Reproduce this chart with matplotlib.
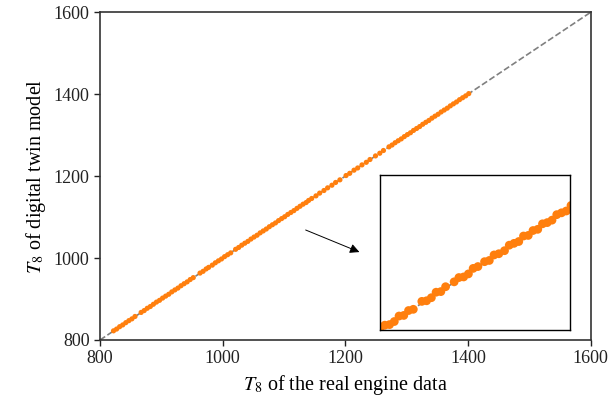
import matplotlib
matplotlib.use("Agg")
import matplotlib.pyplot as plt

plt.rcParams['font.family'] = ['Liberation Serif', 'DejaVu Serif']
plt.rcParams['mathtext.fontset'] = 'stix'

# T8 of the real engine data (coarse points along the range)
t8_real = [822, 827, 832, 837, 842, 847, 852, 857,
           867, 872, 877, 882, 887, 892, 897, 902, 907, 912, 917, 922, 927, 932, 937, 942, 947, 952,
           963, 968, 973, 977,
           983, 988, 993, 998, 1003, 1008, 1013,
           1021, 1026, 1031, 1036, 1041, 1046, 1051, 1056, 1061, 1066, 1071, 1076, 1081, 1086,
           1091, 1096, 1101, 1106, 1111, 1116, 1121, 1126, 1131, 1136, 1140,
           1145, 1152, 1158, 1165, 1171, 1178, 1184, 1191,
           1201, 1207, 1214, 1220, 1227, 1234, 1240,
           1249, 1256, 1262,
           1271, 1276, 1281, 1286, 1291, 1296, 1301, 1306, 1311, 1316, 1321, 1326, 1331, 1336,
           1341, 1346, 1351, 1356, 1361, 1366, 1371, 1376, 1381, 1386, 1391, 1396, 1401]
t8_model = [822.4, 826.7, 832.5, 836.8, 842.3, 847.2, 851.6, 857.4,
            867.3, 871.8, 877.4, 881.7, 887.2, 892.5, 896.8, 902.3, 907.1, 911.6, 917.4, 922.2,
            926.7, 932.4, 937.3, 941.8, 947.5, 952.2,
            963.3, 967.6, 973.4, 977.2,
            982.7, 988.4, 993.2, 997.7, 1003.4, 1008.1, 1012.6,
            1021.3, 1025.8, 1031.4, 1036.2, 1040.7, 1046.3, 1051.2, 1055.7, 1061.4, 1066.1,
            1070.8, 1076.4, 1081.2, 1085.7, 1091.3, 1096.2, 1100.8, 1106.4, 1111.1, 1115.7,
            1121.2, 1126.3, 1131.4, 1135.5, 1140.5,
            1145.3, 1151.7, 1158.4, 1164.8, 1171.3, 1177.7, 1184.4, 1190.8,
            1201.3, 1206.7, 1214.4, 1219.8, 1227.3, 1233.6, 1240.4,
            1249.2, 1255.7, 1262.4,
            1271.3, 1275.8, 1281.4, 1286.2, 1290.7, 1296.3, 1301.2, 1305.7, 1311.4, 1316.1,
            1320.8, 1326.4, 1331.2, 1335.7, 1341.3, 1346.2, 1350.8, 1356.4, 1361.1, 1365.7,
            1371.3, 1376.2, 1380.8, 1386.4, 1391.1, 1395.7, 1401.2]

# dense samples in the zoomed region (shown in the inset)
t8_real_fine = [1119.5, 1120.0, 1120.5, 1121.0, 1121.5, 1122.0, 1122.5, 1123.0, 1123.5,
                1124.4, 1124.9, 1125.4, 1125.9, 1126.4, 1126.9,
                1127.8, 1128.3, 1128.8, 1129.3, 1129.8, 1130.3,
                1131.0, 1131.5, 1132.0, 1132.5,
                1133.1, 1133.6, 1134.1, 1134.6, 1135.1, 1135.6, 1136.1, 1136.6, 1137.1,
                1137.6, 1138.1, 1138.6, 1139.1, 1139.6, 1140.1, 1140.6]
t8_model_fine = [1119.7, 1119.9, 1120.8, 1120.9, 1121.4, 1122.3, 1122.4, 1123.2, 1123.4,
                 1124.7, 1124.8, 1125.3, 1126.2, 1126.3, 1127.1,
                 1127.9, 1128.6, 1128.7, 1129.2, 1130.1, 1130.4,
                 1131.2, 1131.4, 1132.3, 1132.5,
                 1133.0, 1133.9, 1134.2, 1134.5, 1135.4, 1135.5, 1136.3, 1136.5, 1137.4,
                 1137.6, 1138.0, 1138.9, 1139.2, 1139.5, 1140.4, 1140.5]

orange = '#ff7f0e'

fig = plt.figure(figsize=(6.11, 4.05), dpi=100)
ax = fig.add_axes([0.1637, 0.1605, 0.8033, 0.8095])
ax.plot([800, 1600], [800, 1600], ls='--', color='grey', lw=1.2, zorder=1)
ax.scatter(t8_real, t8_model, s=14, color=orange, edgecolors='none', zorder=2)
ax.set_xlim(800, 1600)
ax.set_ylim(800, 1600)
ax.set_xticks([800, 1000, 1200, 1400, 1600])
ax.set_yticks([800, 1000, 1200, 1400, 1600])
ax.tick_params(direction='out', length=4, width=1, labelsize=13, top=False, right=False,
               colors='#222222')
for sp in ax.spines.values():
    sp.set_linewidth(1.2)
    sp.set_color('#333333')
ax.set_xlabel('$T_8$ of the real engine data', fontsize=14.5)
ax.set_ylabel('$T_8$ of digital twin model', fontsize=14.5)

ax.annotate('', xy=(1227, 1012), xytext=(1131, 1071),
            arrowprops=dict(arrowstyle='-|>', color='black', lw=0.7, mutation_scale=14))

ins = fig.add_axes([0.622, 0.185, 0.311, 0.383])
ins.plot([1100, 1160], [1100, 1160], ls='--', color='grey', lw=1.2, zorder=1)
ins.scatter(t8_real_fine, t8_model_fine, s=40, color=orange, edgecolors='none', zorder=2)
ins.set_xlim(1120, 1140)
ins.set_ylim(1120, 1145.4)
ins.set_xticks([])
ins.set_yticks([])
for sp in ins.spines.values():
    sp.set_linewidth(1.0)
    sp.set_color('black')

fig.savefig('out.png', dpi=100)
